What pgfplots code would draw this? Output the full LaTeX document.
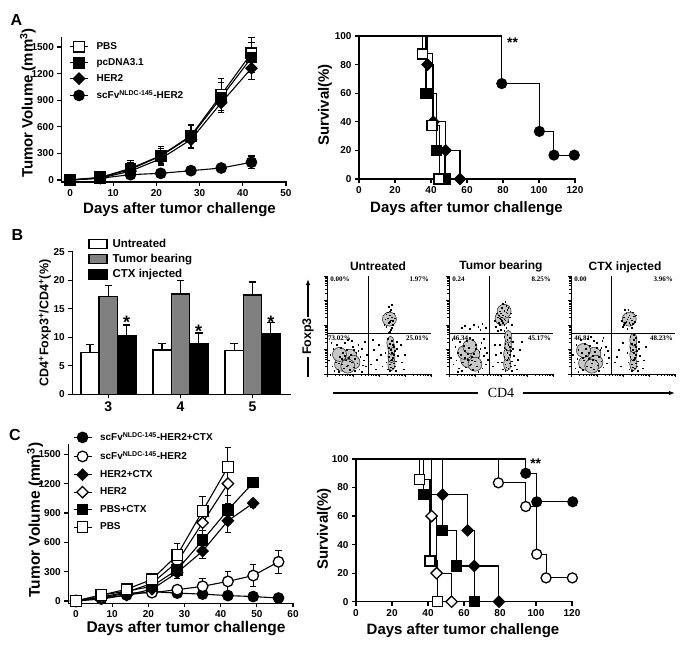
\documentclass[border=0pt]{standalone}
\usepackage{fontspec}
\setmainfont{Liberation Sans}
\newfontfamily\timesf{Liberation Serif}
\usepackage{pgfplots}
\pgfplotsset{compat=1.18}
\usetikzlibrary{arrows.meta}
\newcommand{\fs}[1]{\fontsize{#1}{#1}\selectfont}

\tikzset{qlab/.style={font=\timesf\bfseries\fs{7}, inner sep=1pt}}

\pgfplotsset{
  prism/.style={scale only axis, anchor=south west, axis lines*=left, clip=false,
    axis line style={line width=1.5pt, line cap=rect},
    every tick/.style={line width=1.3pt, black},
    tick align=outside, major tick length=4pt,
    /pgf/number format/assume math mode=true,
    /pgf/number format/1000 sep={},
    tick label style={font=\bfseries\fs{10}}},
  line1/.style={line width=1.1pt, black, mark size=5.3pt},
  ebars/.style={error bars/y dir=both, error bars/y explicit,
    error bars/error bar style={line width=1.1pt, black},
    error bars/error mark options={rotate=90, mark size=3.2pt, line width=1.1pt, black}},
  km/.style={const plot, line width=1.1pt, black, mark size=5pt},
  fsq/.style={mark=square*, mark options={solid, fill=black, draw=black}},
  osq/.style={mark=square*, mark options={solid, fill=white, draw=black, line width=1.3pt}},
  fci/.style={mark=*, mark options={solid, fill=black, draw=black}},
  oci/.style={mark=*, mark options={solid, fill=white, draw=black, line width=1.3pt}},
  fdi/.style={mark=square*, mark size=4pt, mark options={solid, rotate=45, fill=black, draw=black}},
  odi/.style={mark=square*, mark size=4pt, mark options={solid, rotate=45, fill=white, draw=black, line width=1.3pt}},
  lineleg/.style={legend image code/.code={\draw[mark repeat=2,mark phase=2,##1] plot coordinates {(0pt,0pt) (9pt,0pt) (18pt,0pt)};}},
  barleg/.style={legend image code/.code={\draw[##1] (0pt,-4.5pt) rectangle (18pt,4.5pt);}},
  bar1/.style={ybar, bar width=0.254, bar shift=0, draw=black, line width=1.4pt,
    error bars/y dir=plus, error bars/y explicit,
    error bars/error bar style={line width=1.3pt, black},
    error bars/error mark options={rotate=90, mark size=3.8pt, line width=1.3pt, black}},
  flow/.style={scale only axis, anchor=south west, width=104pt, height=98pt,
    xmin=0, xmax=100, ymin=0, ymax=100, axis lines*=left, clip=false,
    axis line style={line width=0.8pt},
    tick align=outside,
    xtick={0,25,50,75,100}, ytick={0,25,50,75,100},
    xticklabels={}, yticklabels={},
    minor xtick={7.5,11.9,15.1,17.5,19.5,21.1,22.6,23.9,32.5,36.9,40.1,42.5,44.5,46.1,47.6,48.9,57.5,61.9,65.1,67.5,69.5,71.1,72.6,73.9,82.5,86.9,90.1,92.5,94.5,96.1,97.6,98.9},
    minor ytick={7.5,11.9,15.1,17.5,19.5,21.1,22.6,23.9,32.5,36.9,40.1,42.5,44.5,46.1,47.6,48.9,57.5,61.9,65.1,67.5,69.5,71.1,72.6,73.9,82.5,86.9,90.1,92.5,94.5,96.1,97.6,98.9},
    major tick length=3pt, minor tick length=1.6pt,
    every tick/.style={line width=0.6pt, black},
    extra y ticks={41}, extra y tick labels={}, extra x tick labels={},
    extra tick style={grid=major, major grid style={black, line width=0.8pt}, major tick length=0pt}},
  dots/.style={only marks, mark=square*, mark size=0.4pt, mark options={draw=none, fill=black!50}},
  core/.style={only marks, mark=*, mark size=7pt, mark options={draw=none, fill=black!22}},
  corev/.style={only marks, mark=*, mark size=6.5pt, mark options={draw=none, fill=black!22, xscale=0.55}},
}

\begin{document}
\begin{tikzpicture}
\path[use as bounding box] (0,0) rectangle (685pt,649pt);

% panel letters
\node[font=\bfseries\fs{16}] at (16.5pt,629pt) {A};
\node[font=\bfseries\fs{16}] at (17.5pt,414pt) {B};
\node[font=\bfseries\fs{16}] at (15pt,214pt) {C};

% axis titles
\node[rotate=90, font=\bfseries\fs{15}] at (28pt,546pt) {Tumor Volume (mm\textsuperscript{3})};
\node[font=\bfseries\fs{15}] at (179.5pt,439pt) {Days after tumor challenge};
\node[rotate=90, font=\bfseries\fs{15}] at (325pt,544pt) {Survival(\%)};
\node[font=\bfseries\fs{15}] at (466.5pt,440pt) {Days after tumor challenge};
\node[rotate=90, font=\bfseries\fs{12.5}] at (45pt,326pt) {CD4\textsuperscript{+}Foxp3\textsuperscript{+}/CD4\textsuperscript{+}(\%)};
\node[rotate=90, font=\bfseries\fs{15.5}] at (35pt,129pt) {Tumor Volume (mm\textsuperscript{3})};
\node[font=\bfseries\fs{15.5}] at (186pt,20.5pt) {Days after tumor challenge};
\node[rotate=90, font=\bfseries\fs{15}] at (324pt,120pt) {Survival(\%)};
\node[font=\bfseries\fs{15}] at (463pt,18.5pt) {Days after tumor challenge};

% flow titles and arrows
\node[font=\bfseries\fs{12}] at (378pt,383pt) {Untreated};
\node[font=\bfseries\fs{12}] at (501pt,383pt) {Tumor bearing};
\node[font=\bfseries\fs{12}] at (625pt,382pt) {CTX injected};
\draw[line width=1.4pt] (308pt,272pt) -- (308pt,292pt);
\draw[line width=1.4pt, -{Latex[length=6pt,width=4.5pt]}] (308pt,332pt) -- (308pt,370pt);
\node[rotate=90, font=\bfseries\fs{12.5}] at (308pt,312.5pt) {Foxp3};
\draw[line width=1.2pt] (333pt,256pt) -- (478pt,256pt);
\draw[line width=1.2pt, -{Latex[length=6pt,width=4.5pt]}] (523pt,256pt) -- (675pt,256pt);
\node[font=\timesf\fs{14}] at (501pt,256pt) {CD4};

% ---------- A: tumour growth ----------
\begin{axis}[prism, at={(61.4pt,466.8pt)}, width=224.6pt, height=144.1pt,
  xmin=-2, xmax=50, ymin=-25, ymax=1600,
  xtick={0,10,...,50}, ytick={0,300,...,1500},
  lineleg, legend cell align=left,
  legend style={at={(rel axis cs:0.035,0.985)}, anchor=north west, draw=none, fill=none,
    font=\bfseries\fs{10}, row sep=3.5pt, column sep=6pt, inner sep=0pt}]
\addplot[line1, ebars, osq] coordinates {(0,0) +- (0,0) (7,30) +- (0,15) (14,130) +- (0,90) (21,275) +- (0,100) (28,500) +- (0,130) (35,960) +- (0,180) (42,1430) +- (0,180)};
\addlegendentry{PBS}
\addplot[line1, ebars, fsq] coordinates {(0,0) +- (0,0) (7,25) +- (0,15) (14,120) +- (0,80) (21,270) +- (0,90) (28,490) +- (0,120) (35,930) +- (0,170) (42,1380) +- (0,170)};
\addlegendentry{pcDNA3.1}
\addplot[line1, ebars, fdi] coordinates {(0,0) +- (0,0) (7,20) +- (0,15) (14,100) +- (0,70) (21,240) +- (0,80) (28,455) +- (0,100) (35,870) +- (0,110) (42,1260) +- (0,130)};
\addlegendentry{HER2}
\addplot[line1, ebars, fci] coordinates {(0,0) +- (0,0) (7,20) +- (0,10) (14,60) +- (0,30) (21,75) +- (0,20) (28,105) +- (0,25) (35,135) +- (0,40) (42,200) +- (0,70)};
\addlegendentry{scFv\textsuperscript{NLDC-145}-HER2}
\end{axis}

% ---------- A: survival ----------
\begin{axis}[prism, at={(359pt,470pt)}, width=216pt, height=143pt,
  xmin=0, xmax=120, ymin=0, ymax=100, xtick={0,20,...,120}, ytick={0,20,...,100}]
\addplot[km, fci, mark indices={2,3,4,5}] coordinates {(0,100) (79.3,66.7) (100.2,33.3) (108.3,16.7) (119.6,16.7)};
\addplot[km, fdi, mark indices={2,3,4,5}] coordinates {(0,100) (38.1,80) (41.3,40) (48.1,20) (56.1,0)};
\addplot[km, fsq, mark indices={2,3,4}] coordinates {(0,100) (37.2,60) (43.2,20) (47.8,0)};
\addplot[km, osq, mark indices={2,3,4}] coordinates {(0,100) (35.4,87.5) (40.6,37.5) (44.5,0)};
\node[anchor=base west, font=\bfseries\fs{14}, inner sep=0pt] at (axis cs:82.2,91.9) {**};
\end{axis}

% ---------- B: bars ----------
\begin{axis}[prism, at={(72.3pt,254.7pt)}, width=217.7pt, height=142.6pt,
  xmin=-0.5, xmax=2.52, ymin=0, ymax=25,
  xtick={0,1,2}, xticklabels={3,4,5}, ytick={0,5,...,25},
  x tick label style={font=\bfseries\fs{14}},
  barleg, legend cell align=left,
  legend style={at={(rel axis cs:0.072,1.105)}, anchor=north west, draw=none, fill=none,
    font=\bfseries\fs{11.5}, row sep=1.5pt, column sep=3pt, inner sep=0pt}]
\addplot[bar1, fill=white] coordinates {(-0.254,7.36) +- (0,1.4) (0.746,7.77) +- (0,1.17) (1.746,7.65) +- (0,1.29)};
\addlegendentry{Untreated}
\addplot[bar1, fill=gray] coordinates {(0,17.1) +- (0,2.0) (1,17.6) +- (0,2.3) (2,17.4) +- (0,2.3)};
\addlegendentry{Tumor bearing}
\addplot[bar1, fill=black] coordinates {(0.254,10.2) +- (0,1.95) (1.254,8.94) +- (0,1.8) (2.254,10.7) +- (0,1.9)};
\addlegendentry{CTX injected}
\node[anchor=base, font=\bfseries\fs{18}, inner sep=0pt] at (axis cs:0.254,11.6) {*};
\node[anchor=base, font=\bfseries\fs{18}, inner sep=0pt] at (axis cs:1.254,9.9) {*};
\node[anchor=base, font=\bfseries\fs{18}, inner sep=0pt] at (axis cs:2.254,11.6) {*};
\end{axis}

% ---------- B: flow, untreated ----------
\begin{axis}[flow, at={(327pt,275pt)}, extra x ticks={40}]
\addplot[core] coordinates {(17,15) (22,18) (14,10) (25,12) (12,20) (20,8) (60,56)};
\addplot[corev] coordinates {(62,10) (62,18) (62,26) (61,32)};
\addplot[dots] coordinates {(5,8) (8,12) (10,5) (12,18) (14,10) (15,22) (16,6) (18,14) (19,25) (20,9) (21,17) (22,4) (23,20) (24,12) (25,28) (26,7) (27,16) (28,22) (29,11) (30,30) (31,5) (32,18) (33,26) (34,9) (35,14) (36,33) (3,20) (6,26) (9,30) (11,2) (13,27) (17,32) (20,35) (24,34) (27,3) (30,24) (2,14) (7,3) (38,20) (37,8) (14,16) (17,19) (22,13) (19,8) (11,11) (26,25) (33,2) (4,32)
 (58,5) (60,10) (62,15) (64,20) (61,25) (63,30) (59,18) (65,8) (66,13) (60,3) (62,22) (64,28) (67,33) (57,12) (61,7) (63,17) (65,24) (59,27) (62,34) (66,3) (68,19) (56,22) (60,31) (64,11) (61,14) (63,6) (58,36) (67,26)
 (42,10) (45,25) (48,15) (50,30) (47,5) (52,20) (44,35) (53,8) (72,12) (75,20) (71,30) (74,5)
 (57,48) (59,52) (61,55) (60,60) (62,58) (58,63) (63,50) (56,56) (61,66) (64,62) (59,69) (62,47) (60,53) (58,57) (63,54) (57,61) (65,57) (60,64) (55,50) (62,71) (60,43) (61,45) (59,42)};
\node[qlab, anchor=north west] at (axis cs:2,100) {0.00\%};
\node[qlab, anchor=north east] at (axis cs:99,100) {1.97\%};
\node[qlab, anchor=north west] at (axis cs:0,40) {73.02\%};
\node[qlab, anchor=north east] at (axis cs:99,40) {25.01\%};
\end{axis}

% ---------- B: flow, tumor bearing ----------
\begin{axis}[flow, at={(449pt,275pt)}, extra x ticks={39}]
\addplot[core] coordinates {(18,14) (23,20) (15,22) (25,10) (20,28) (51,57) (53,64)};
\addplot[corev] coordinates {(56,10) (56,20) (57,30) (57,38)};
\addplot[dots] coordinates {(4,10) (7,14) (9,6) (11,20) (13,12) (15,24) (16,7) (18,15) (19,27) (21,10) (22,18) (23,4) (24,21) (25,13) (26,30) (27,8) (28,17) (29,23) (30,12) (31,32) (32,6) (33,19) (34,27) (35,10) (6,28) (10,33) (12,3) (14,29) (17,34) (20,37) (23,35) (28,2) (30,26) (2,17) (8,2) (36,22) (37,15) (15,17) (18,21) (22,14) (20,9) (12,12) (26,26) (3,35) (33,36) (8,22)
 (52,5) (54,10) (56,15) (58,20) (55,25) (57,30) (53,18) (59,8) (60,13) (54,3) (56,22) (58,28) (61,33) (51,12) (55,7) (57,17) (59,24) (53,27) (56,35) (60,3) (62,19) (50,22) (54,31) (58,11) (55,14) (57,6) (53,38) (61,26) (56,40) (58,37) (63,9) (49,30)
 (42,8) (45,20) (47,12) (44,30) (66,15) (68,25) (65,5) (70,33)
 (45,48) (48,52) (50,56) (52,60) (54,55) (56,62) (53,50) (49,64) (51,68) (55,70) (47,58) (50,45) (53,65) (57,53) (46,62) (52,72) (58,58) (55,47) (49,50) (51,54) (54,59) (48,60) (56,66) (44,54) (59,62) (53,44) (50,62) (52,52) (57,68) (47,44) (60,50) (54,74) (51,58) (49,57) (55,63) (53,56)
 (12,47) (15,49) (20,46) (24,50) (28,48) (32,51) (35,47) (30,45)};
\node[qlab, anchor=north west] at (axis cs:2,100) {0.24};
\node[qlab, anchor=north east] at (axis cs:99,100) {8.25\%};
\node[qlab, anchor=north west] at (axis cs:2,40) {46.34};
\node[qlab, anchor=north east] at (axis cs:99,40) {45.17\%};
\end{axis}

% ---------- B: flow, CTX injected ----------
\begin{axis}[flow, at={(571pt,275pt)}, extra x ticks={39}]
\addplot[core] coordinates {(17,16) (22,20) (14,11) (24,12) (12,24) (20,8) (56,56)};
\addplot[corev] coordinates {(60,10) (60,20) (60,28) (60,35)};
\addplot[dots] coordinates {(3,12) (6,16) (8,7) (10,22) (12,14) (14,26) (15,8) (17,16) (18,29) (20,11) (21,19) (22,5) (23,23) (24,14) (25,32) (26,9) (27,18) (28,25) (29,13) (30,34) (31,7) (32,20) (33,28) (34,11) (5,30) (9,35) (11,4) (13,31) (16,36) (19,38) (22,34) (27,3) (29,27) (2,20) (7,2) (35,24) (36,17) (14,19) (17,22) (21,15) (19,7) (11,17) (25,27) (4,6) (31,37) (7,25)
 (56,5) (58,10) (60,15) (62,20) (59,25) (61,30) (57,18) (63,8) (64,13) (58,3) (60,22) (62,28) (65,33) (55,12) (59,7) (61,17) (63,24) (57,27) (60,35) (64,3) (66,19) (54,22) (58,31) (62,11) (59,14) (61,6) (57,38) (65,26) (60,40) (62,37)
 (42,12) (46,25) (48,8) (50,32) (44,18) (70,14) (72,28) (69,6)
 (50,48) (52,52) (54,56) (56,60) (58,55) (57,50) (53,62) (55,66) (59,63) (51,58) (54,46) (57,64) (61,53) (49,54) (56,52) (60,59) (58,47) (53,53) (55,58) (62,60) (52,66) (57,57) (51,50) (59,51)};
\node[qlab, anchor=north west] at (axis cs:2,100) {0.00};
\node[qlab, anchor=north east] at (axis cs:99,100) {3.96\%};
\node[qlab, anchor=north west] at (axis cs:2,40) {46.81};
\node[qlab, anchor=north east] at (axis cs:99,40) {48.23\%};
\end{axis}

% ---------- C: tumour growth ----------
\begin{axis}[prism, at={(68.3pt,45.6pt)}, width=224.7pt, height=158.9pt,
  xmin=-2.13, xmax=60, ymin=-25, ymax=1600,
  xtick={0,10,...,60}, ytick={0,300,...,1500},
  lineleg, legend cell align=left,
  legend style={at={(rel axis cs:0.02,1.09)}, anchor=north west, draw=none, fill=none,
    font=\bfseries\fs{10}, row sep=5pt, column sep=6pt, inner sep=0pt}]
\addplot[line1, ebars, fci] coordinates {(0,0) +- (0,0) (7,20) +- (0,10) (14,60) +- (0,20) (21,95) +- (0,25) (28,80) +- (0,20) (35,70) +- (0,20) (42,55) +- (0,15) (49,45) +- (0,15) (56,30) +- (0,10)};
\addlegendentry{scFv\textsuperscript{NLDC-145}-HER2+CTX}
\addplot[line1, ebars, oci] coordinates {(0,0) +- (0,0) (7,30) +- (0,10) (14,80) +- (0,25) (21,85) +- (0,30) (28,115) +- (0,40) (35,150) +- (0,80) (42,200) +- (0,100) (49,260) +- (0,110) (56,400) +- (0,120)};
\addlegendentry{scFv\textsuperscript{NLDC-145}-HER2}
\addplot[line1, ebars, fdi] coordinates {(0,0) +- (0,0) (7,30) +- (0,10) (14,60) +- (0,20) (21,120) +- (0,30) (28,290) +- (0,60) (35,510) +- (0,80) (42,820) +- (0,120) (49,1000) +- (0,40)};
\addlegendentry{HER2+CTX}
\addplot[line1, ebars, odi] coordinates {(0,0) +- (0,0) (7,40) +- (0,10) (14,90) +- (0,25) (21,180) +- (0,40) (28,400) +- (0,80) (35,800) +- (0,150) (42,1200) +- (0,200)};
\addlegendentry{HER2}
\addplot[line1, ebars, fsq] coordinates {(0,0) +- (0,0) (7,60) +- (0,10) (14,100) +- (0,25) (21,150) +- (0,40) (28,320) +- (0,60) (35,620) +- (0,100) (42,930) +- (0,150) (49,1210) +- (0,40)};
\addlegendentry{PBS+CTX}
\addplot[line1, ebars, osq] coordinates {(0,0) +- (0,0) (7,60) +- (0,10) (14,120) +- (0,30) (21,220) +- (0,60) (28,470) +- (0,120) (35,920) +- (0,150) (42,1370) +- (0,200)};
\addlegendentry{PBS}
\end{axis}

% ---------- C: survival ----------
\begin{axis}[prism, at={(356pt,47.3pt)}, width=216pt, height=142.7pt,
  xmin=0, xmax=120, ymin=0, ymax=100, xtick={0,20,...,120}, ytick={0,20,...,100}]
\addplot[km, fci, mark indices={2,3,4}] coordinates {(0,100) (94.3,90) (100.4,70) (120.4,70)};
\addplot[km, oci, mark indices={2,3,4,5,6}] coordinates {(0,100) (79.1,83.3) (94.3,66.7) (100.4,33.3) (105.6,16.7) (120.2,16.7)};
\addplot[km, fdi, mark indices={2,3,4,5}] coordinates {(0,100) (48.1,75) (62,50) (65.7,25) (79.4,0)};
\addplot[km, odi, mark indices={2,3,4}] coordinates {(0,100) (42,60) (44.8,20) (53.1,0)};
\addplot[km, fsq, mark indices={2,3,4,5}] coordinates {(0,100) (37.4,75) (48.1,50) (55.9,25) (65.7,0)};
\addplot[km, osq, mark indices={2,3,4}] coordinates {(0,100) (35.2,85.7) (41.1,28.6) (45.2,0)};
\node[anchor=base west, font=\bfseries\fs{14}, inner sep=0pt] at (axis cs:96.7,93) {**};
\end{axis}
\end{tikzpicture}
\end{document}
